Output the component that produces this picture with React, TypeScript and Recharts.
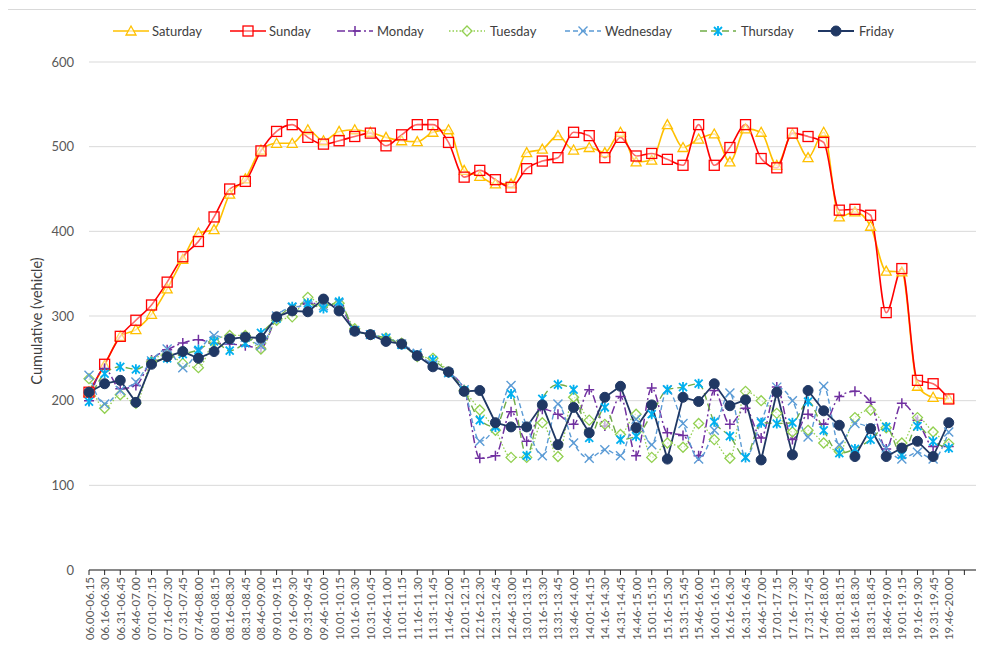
import React from 'react';
import { LineChart, Line, XAxis, YAxis, CartesianGrid } from 'recharts';

const periods = [
  '06.00-06.15', '06.16-06.30', '06.31-06.45', '06.46-07.00', '07.01-07.15', '07.16-07.30', '07.31-07.45', '07.46-08.00',
  '08.01-08.15', '08.16-08.30', '08.31-08.45', '08.46-09.00', '09.01-09.15', '09.16-09.30', '09.31-09.45', '09.46-10.00',
  '10.01-10.15', '10.16-10.30', '10.31-10.45', '10.46-11.00', '11.01-11.15', '11.16-11.30', '11.31-11.45', '11.46-12.00',
  '12.01-12.15', '12.16-12.30', '12.31-12.45', '12.46-13.00', '13.01-13.15', '13.16-13.30', '13.31-13.45', '13.46-14.00',
  '14.01-14.15', '14.16-14.30', '14.31-14.45', '14.46-15.00', '15.01-15.15', '15.16-15.30', '15.31-15.45', '15.46-16.00',
  '16.01-16.15', '16.16-16.30', '16.31-16.45', '16.46-17.00', '17.01-17.15', '17.16-17.30', '17.31-17.45', '17.46-18.00',
  '18.01-18.15', '18.16-18.30', '18.31-18.45', '18.46-19.00', '19.01-19.15', '19.16-19.30', '19.31-19.45', '19.46-20.00',
];
// the original axis runs on past the last period with empty slots
const emptySlots = ['', ' '];

const saturday = [210, 242, 276, 284, 302, 332, 367, 398, 402, 444, 462, 496, 504, 504, 520, 507, 518, 520, 517, 511, 507, 506, 517, 520, 472, 465, 456, 456, 493, 497, 513, 496, 499, 493, 517, 482, 484, 526, 499, 509, 515, 482, 521, 517, 478, 515, 487, 517, 417, 423, 406, 353, 352, 217, 204, 202];
const sunday = [210, 243, 276, 295, 313, 340, 370, 388, 417, 450, 459, 495, 518, 526, 511, 503, 507, 512, 516, 501, 514, 526, 526, 505, 464, 472, 461, 452, 474, 483, 487, 517, 513, 487, 511, 489, 492, 485, 478, 526, 478, 499, 526, 486, 475, 516, 512, 505, 425, 426, 419, 304, 356, 224, 220, 202];
const monday = [200, 238, 214, 218, 248, 260, 268, 272, 268, 267, 265, 262, 297, 306, 315, 314, 312, 283, 278, 272, 267, 254, 242, 233, 213, 132, 135, 187, 152, 190, 184, 172, 213, 170, 205, 135, 215, 162, 159, 135, 212, 172, 191, 156, 216, 154, 184, 172, 205, 211, 198, 143, 197, 177, 146, 146];
const tuesday = [226, 191, 207, 197, 246, 255, 244, 239, 270, 277, 277, 261, 295, 299, 322, 313, 315, 285, 278, 274, 268, 252, 250, 234, 212, 189, 165, 133, 133, 174, 134, 204, 177, 172, 160, 184, 133, 150, 145, 173, 154, 132, 211, 200, 185, 163, 165, 150, 140, 180, 189, 168, 150, 180, 163, 149];
const wednesday = [230, 196, 212, 222, 247, 261, 239, 258, 277, 272, 275, 265, 300, 310, 312, 312, 315, 283, 278, 274, 267, 256, 242, 233, 213, 152, 170, 218, 170, 135, 196, 150, 132, 142, 135, 178, 148, 213, 173, 131, 165, 209, 133, 175, 216, 200, 157, 217, 148, 173, 167, 144, 131, 139, 131, 163];
const thursday = [199, 232, 240, 237, 246, 250, 255, 260, 270, 259, 268, 280, 297, 311, 315, 309, 317, 283, 278, 274, 266, 254, 248, 233, 212, 177, 169, 208, 135, 202, 219, 213, 156, 192, 154, 158, 184, 213, 216, 220, 175, 158, 133, 174, 173, 174, 199, 165, 138, 143, 154, 169, 136, 170, 152, 144];
const friday = [210, 220, 224, 198, 243, 252, 258, 250, 258, 273, 275, 274, 299, 306, 305, 320, 306, 282, 278, 270, 267, 253, 240, 234, 211, 212, 174, 169, 169, 195, 148, 192, 162, 204, 217, 168, 195, 131, 204, 199, 220, 194, 201, 130, 210, 136, 212, 188, 171, 134, 167, 134, 144, 152, 134, 174];

const yTicks = [0, 100, 200, 300, 400, 500, 600];

const data = [
  ...periods.map((p, i) => ({
    period: p,
    Saturday: saturday[i],
    Sunday: sunday[i],
    Monday: monday[i],
    Tuesday: tuesday[i],
    Wednesday: wednesday[i],
    Thursday: thursday[i],
    Friday: friday[i],
  })),
  ...emptySlots.map((p) => ({ period: p })),
];

const FONT = 'Lato, "Open Sans", sans-serif';

// marker shapes
const marker = (kind: string, color: string, cx: number, cy: number, key?: string) => {
  switch (kind) {
    case 'triangle':
      return (
        <path key={key} d={`M${cx},${cy - 5}L${cx + 5},${cy + 4}L${cx - 5},${cy + 4}Z`} fill="#fff" fillOpacity={0.6} stroke={color} strokeWidth={1.3} />
      );
    case 'square':
      return <rect key={key} x={cx - 5} y={cy - 5} width={10} height={10} fill="#fff" fillOpacity={0.4} stroke={color} strokeWidth={1.3} />;
    case 'plus':
      return (
        <path key={key} d={`M${cx - 5},${cy}H${cx + 5}M${cx},${cy - 5}V${cy + 5}`} stroke={color} strokeWidth={1.5} fill="none" />
      );
    case 'diamond':
      return (
        <path key={key} d={`M${cx},${cy - 5}L${cx + 5},${cy}L${cx},${cy + 5}L${cx - 5},${cy}Z`} fill="#fff" fillOpacity={0.6} stroke={color} strokeWidth={1.3} />
      );
    case 'cross':
      return (
        <path key={key} d={`M${cx - 4.5},${cy - 4.5}L${cx + 4.5},${cy + 4.5}M${cx + 4.5},${cy - 4.5}L${cx - 4.5},${cy + 4.5}`} stroke={color} strokeWidth={1.4} fill="none" />
      );
    case 'asterisk':
      return (
        <path
          key={key}
          d={`M${cx - 4},${cy - 4}L${cx + 4},${cy + 4}M${cx + 4},${cy - 4}L${cx - 4},${cy + 4}M${cx},${cy - 5}V${cy + 5}`}
          stroke={color}
          strokeWidth={1.8}
          fill="none"
        />
      );
    default:
      return <circle key={key} cx={cx} cy={cy} r={5} fill={color} stroke={color} />;
  }
};

const makeDot = (kind: string, color: string) => (props: any) => {
  const { cx, cy, index, value } = props;
  if (cx == null || cy == null || value == null) return <g key={`e-${index}`} />;
  return marker(kind, color, cx, cy, `d-${index}`);
};

const series = [
  { key: 'Saturday', color: '#FFC000', markerColor: '#FFC000', kind: 'triangle', dash: undefined, width: 1.6, curve: 'monotone', legendX: 113, textX: 152 },
  { key: 'Sunday', color: '#FF0000', markerColor: '#FF0000', kind: 'square', dash: undefined, width: 1.6, curve: 'monotone', legendX: 230, textX: 269 },
  { key: 'Monday', color: '#7030A0', markerColor: '#7030A0', kind: 'plus', dash: '8 3 2 3', width: 1.5, curve: 'monotone', legendX: 337, textX: 377 },
  { key: 'Tuesday', color: '#92D050', markerColor: '#92D050', kind: 'diamond', dash: '1.5 2', width: 1.3, curve: 'monotone', legendX: 449, textX: 490 },
  { key: 'Wednesday', color: '#5B9BD5', markerColor: '#5B9BD5', kind: 'cross', dash: '5 3', width: 1.4, curve: 'monotone', legendX: 565, textX: 605 },
  { key: 'Thursday', color: '#70AD47', markerColor: '#00B0F0', kind: 'asterisk', dash: '7 4', width: 1.4, curve: 'monotone', legendX: 700, textX: 741 },
  { key: 'Friday', color: '#203864', markerColor: '#203864', kind: 'circle', dash: undefined, width: 1.8, curve: 'linear', legendX: 818, textX: 859 },
];

const XTick = (props: any) => {
  const { x, y, payload } = props;
  return (
    <text
      transform={`translate(${x},${y}) rotate(-90)`}
      textAnchor="end"
      dominantBaseline="central"
      fontSize={11.5}
      fill="#595959"
      fontFamily={FONT}
    >
      {payload.value}
    </text>
  );
};

const YLabel = () => (
  <text
    transform="translate(28,313) rotate(-90)"
    textAnchor="middle"
    dominantBaseline="central"
    fontSize={14.5}
    fill="#404040"
    fontFamily={FONT}
  >
    Cumulative (vehicle)
  </text>
);

const LegendRow = () => (
  <div style={{ position: 'absolute', left: 0, top: 0, width: 976, height: 40, fontFamily: FONT, fontSize: 13, color: '#404040' }}>
    {series.map((s) => (
      <React.Fragment key={s.key}>
        <svg style={{ position: 'absolute', left: s.legendX - 8, top: 16 }} width={36} height={14}>
          <line x1={0} y1={7} x2={36} y2={7} stroke={s.color} strokeWidth={s.width} strokeDasharray={s.dash} />
          {marker(s.kind, s.markerColor, 18, 7)}
        </svg>
        <span style={{ position: 'absolute', left: s.textX - 8, top: 14, lineHeight: '18px', whiteSpace: 'nowrap' }}>{s.key}</span>
      </React.Fragment>
    ))}
  </div>
);

export default function App() {
  return (
    <div style={{ position: 'relative', width: 976, height: 638 }}>
      <div style={{ position: 'absolute', left: -1, top: 1, width: 980, height: 640, borderLeft: '1px solid #d9d9d9', borderTop: '1px solid #d9d9d9' }} />
      <LegendRow />
      <LineChart width={976} height={638} data={data} margin={{ top: 54, right: 0, bottom: 0, left: 0 }}>
        <CartesianGrid vertical={false} stroke="#d9d9d9" strokeWidth={1} />
        <XAxis
          dataKey="period"
          interval={0}
          height={76}
          padding={{ left: 0, right: 4 }}
          tick={<XTick />}
          tickSize={5}
          tickMargin={2}
          axisLine={{ stroke: '#262626' }}
          tickLine={{ stroke: '#262626' }}
        />
        <YAxis
          width={81}
          domain={[0, 600]}
          ticks={yTicks}
          axisLine={false}
          tickLine={false}
          tickSize={0}
          tickMargin={15}
          tick={{ fontSize: 13, fill: '#595959', fontFamily: FONT }}
          label={<YLabel />}
        />
        {series.map((s) => (
          <Line
            key={s.key}
            dataKey={s.key}
            type={s.curve as any}
            stroke={s.color}
            strokeWidth={s.width}
            strokeDasharray={s.dash}
            dot={makeDot(s.kind, s.markerColor)}
            activeDot={false}
            isAnimationActive={false}
          />
        ))}
      </LineChart>
    </div>
  );
}
